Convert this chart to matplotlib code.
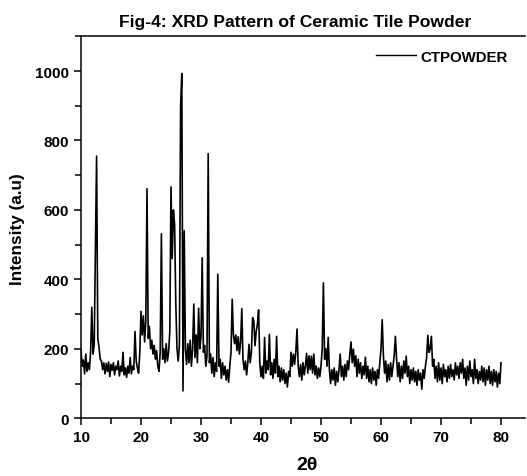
import numpy as np
import matplotlib
matplotlib.use("Agg")
import matplotlib.pyplot as plt
from matplotlib.ticker import MultipleLocator

# ---- data, 2-theta from 10.0 to 80.0 in 0.2 deg steps ----
two_theta_start = 10.0
two_theta_end = 80.0
intensity = [
    195, 150, 168, 128, 185,   # 10
    135, 160, 140, 190, 320,   # 11
    185, 210, 480, 755, 230,   # 12
    205, 170, 165, 140, 160,   # 13
    128, 158, 135, 162, 120,   # 14
    155, 138, 160, 125, 150,   # 15
    140, 165, 122, 150, 135,   # 16
    190, 125, 145, 118, 150,   # 17
    130, 175, 128, 150, 140,   # 18
    250, 165, 145, 130, 190,   # 19
    308, 240, 295, 220, 280,   # 20
    661, 230, 265, 200, 225,   # 21
    185, 210, 170, 195, 150,   # 22
    135, 190, 531, 170, 200,   # 23
    160, 215, 165, 190, 250,   # 24
    666, 460, 600, 557, 330,   # 25
    200, 165, 210, 900, 993,   # 26
    79, 540, 200, 155, 215,    # 27
    160, 225, 150, 200, 329,   # 28
    175, 240, 160, 317, 200,   # 29
    235, 462, 190, 210, 150,   # 30
    180, 762, 160, 185, 130,   # 31
    175, 120, 160, 135, 415,   # 32
    150, 170, 115, 160, 125,   # 33
    150, 110, 140, 104, 150,   # 34
    190, 343, 240, 215, 240,   # 35
    195, 235, 185, 220, 316,   # 36
    170, 140, 165, 125, 160,   # 37
    213, 160, 190, 290, 281,   # 38
    209, 250, 271, 312, 160,   # 39
    120, 150, 115, 233, 130,   # 40
    165, 140, 242, 125, 160,   # 41
    115, 170, 130, 236, 120,   # 42
    150, 105, 145, 110, 140,   # 43
    100, 130, 90, 135, 120,    # 44
    190, 150, 185, 155, 190,   # 45
    257, 150, 120, 155, 110,   # 46
    160, 125, 150, 187, 130,   # 47
    180, 140, 179, 130, 185,   # 48
    125, 150, 115, 145, 120,   # 49
    150, 200, 390, 170, 200,   # 50
    150, 233, 140, 100, 140,   # 51
    110, 145, 95, 135, 105,    # 52
    140, 185, 120, 150, 110,   # 53
    155, 120, 165, 140, 185,   # 54
    220, 160, 199, 150, 180,   # 55
    120, 170, 130, 160, 115,   # 56
    150, 125, 176, 115, 150,   # 57
    105, 140, 100, 145, 110,   # 58
    135, 95, 140, 115, 160,    # 59
    200, 284, 180, 130, 165,   # 60
    105, 155, 110, 160, 120,   # 61
    150, 180, 236, 170, 120,   # 62
    160, 105, 150, 115, 165,   # 63
    130, 179, 120, 150, 100,   # 64
    140, 110, 145, 105, 135,   # 65
    95, 140, 110, 130, 84,     # 66
    140, 115, 150, 175, 239,   # 67
    190, 200, 236, 150, 170,   # 68
    115, 150, 105, 160, 110,   # 69
    145, 100, 155, 120, 140,   # 70
    105, 150, 115, 155, 120,   # 71
    140, 110, 160, 125, 150,   # 72
    115, 160, 130, 170, 115,   # 73
    145, 95, 150, 110, 165,    # 74
    120, 140, 100, 170, 115,   # 75
    140, 100, 135, 110, 150,   # 76
    105, 145, 95, 140, 110,    # 77
    150, 100, 135, 95, 140,    # 78
    105, 135, 90, 130, 100,    # 79
    160,                       # 80
]
series_label = "CTPOWDER"
title_text = "Fig-4: XRD Pattern of Ceramic Tile Powder"
x_label = "2\u03b8"
y_label = "Intensity (a.u)"

two_theta = np.linspace(two_theta_start, two_theta_end, len(intensity))

plt.rcParams["font.family"] = ["Liberation Sans", "DejaVu Sans"]
plt.rcParams["font.weight"] = "bold"

W, H = 527, 477
fig = plt.figure(figsize=(W / 100, H / 100), dpi=100)
ax = fig.add_axes([81 / W, 1 - 419.3 / H, (525 - 81) / W, (419.3 - 37.3) / H])

ax.plot(two_theta, intensity, color="black", lw=1.2, label=series_label)
ax.set_xlim(10, 84)
ax.set_ylim(0, 1100)
ax.xaxis.set_major_locator(MultipleLocator(10))
ax.xaxis.set_minor_locator(MultipleLocator(5))
ax.yaxis.set_major_locator(MultipleLocator(200))
ax.yaxis.set_minor_locator(MultipleLocator(100))
ax.spines["right"].set_visible(False)
for s in ("left", "bottom", "top"):
    ax.spines[s].set_linewidth(1.1)
ax.tick_params(which="major", direction="out", length=5, width=1.1,
               labelsize=11, pad=3.5)
ax.tick_params(which="minor", direction="out", length=4, width=1.1)
ax.tick_params(top=False, right=False)
for lab in ax.get_xticklabels() + ax.get_yticklabels():
    lab.set_fontweight("bold")

fig.text(295 / W, 1 - 26.7 / H, title_text, ha="center", va="baseline",
         fontsize=12.6, fontweight="bold")
fig.text(18 / W, 1 - 229 / H, y_label, ha="center", va="center", rotation=90,
         fontsize=12.3, fontweight="bold")
fig.text(307 / W, 1 - 466 / H, x_label, ha="center", va="center",
         fontsize=14, fontweight="bold")

fs = 10.8
fs_px = fs * 100 / 72
leg = ax.legend(loc="center left", bbox_to_anchor=((376 - 81) / 444, (419.3 - 57.7) / 382),
                frameon=False, fontsize=fs, borderpad=0, borderaxespad=0,
                handlelength=40 / fs_px, handletextpad=4.5 / fs_px)
for t in leg.get_texts():
    t.set_fontweight("bold")
for l in leg.get_lines():
    l.set_linewidth(1.0)

fig.savefig("out.png", dpi=100)
